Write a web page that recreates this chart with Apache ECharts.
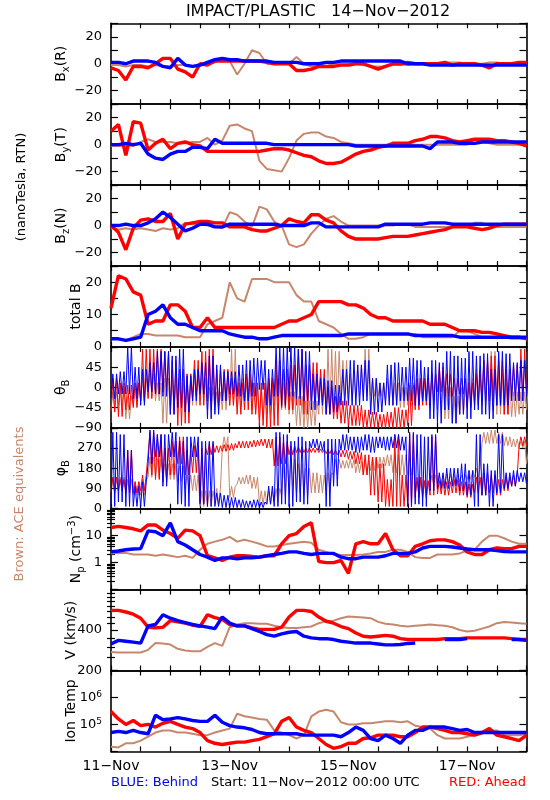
<!DOCTYPE html>
<html><head><meta charset="utf-8">
<script src="https://cdn.jsdelivr.net/npm/echarts@6/dist/echarts.min.js"></script>
<style>html,body{margin:0;padding:0;background:#fff;}#c{width:550px;height:800px;}</style>
</head><body><div id="c"></div>
<script>
// ---------- data (every 3 hours from 11-Nov-2012 00:00 UTC) ----------
const STEP = 3; // hours between samples
const xTickHours = [0,12,24,36,48,60,72,84,96,108,120,132,144,156,168];
const xLabelHours = [0,48,96,144];
const xLabelText = ['11−Nov','13−Nov','15−Nov','17−Nov'];

const bxRed   = [-3,-5,-12,-2,-2,-3,0,4,4,-4,-6,-10,0,-1,2,2,2,2,2,2,2,1,0,0,0,-5,-5,-4,-2,-2,-2,-1,-1,0,0,-2,-4,-2,0,0,1,0,0,0,0,1,-1,0,0,0,-1,-3,0,0,0,1,1];
const bxBlue  = [1,1,0,2,2,2,1,-2,-3,4,-1,-2,-1,1,3,4,3,3,2,2,2,2,1,1,1,1,0,0,0,1,1,2,2,2,2,2,2,2,2,2,0,0,0,-1,-1,-1,-1,-1,-1,-1,-1,-1,-1,-1,-1,-1,-1];
const bxBrown = [-1,-1,-2,-1,-1,-2,-1,-2,-2,-1,-1,-2,0,0,1,4,2,-8,0,10,8,0,0,0,0,5,0,-2,-2,-2,0,0,0,0,-1,-2,-2,-2,-1,-1,-1,0,0,0,0,1,1,1,0,0,0,1,1,0,0,0,1];

const byRed   = [10,15,-8,17,16,-4,1,4,-3,1,2,0,-1,-5,-5,-5,-5,-5,-5,-5,-5,-4,-3,-3,-4,-6,-8,-9,-12,-14,-14,-13,-10,-7,-5,-4,-2,-1,1,1,1,3,4,6,6,5,3,2,3,4,4,4,3,3,2,1,-1];
const byBlue  = [0,0,1,0,1,-7,-10,-11,-7,-5,-5,-2,-2,-3,4,1,1,1,1,1,1,1,0,0,0,0,0,0,0,0,0,0,0,-1,-1,-1,-1,-1,-1,-1,-1,-1,-1,-3,2,2,2,1,1,1,2,2,2,2,2,2,2];
const byBrown = [-1,-1,-1,-1,2,4,2,2,2,1,1,2,2,5,0,3,14,15,12,10,-12,-18,-19,-20,-10,3,8,9,9,6,5,2,1,0,0,0,0,0,0,0,0,0,0,0,0,0,0,0,0,4,4,1,0,0,0,0,0];

const bzRed   = [0,-5,-18,-2,4,5,3,3,9,-10,1,2,3,3,2,2,-1,-1,-1,-3,-4,-4,-2,0,5,3,2,8,8,4,2,-4,-8,-10,-10,-10,-10,-9,-8,-8,-8,-7,-6,-5,-4,-3,-1,-1,-1,-2,-3,-2,0,1,1,1,1];
const bzBlue  = [0,0,1,0,0,2,5,10,6,1,-4,-2,1,1,-1,-1,1,1,1,1,1,1,1,0,0,0,0,2,2,-1,-1,-1,-1,-1,-1,-1,-1,1,1,1,1,1,1,2,2,2,1,1,1,1,1,1,1,1,1,1,1];
const bzBrown = [-2,-3,-2,-3,-2,-3,-4,-2,-3,-2,2,1,1,0,-1,-2,10,8,3,-1,14,12,3,0,-14,-16,-14,-6,0,5,7,3,0,0,0,0,0,0,0,1,1,-1,-1,-1,-1,-1,-1,-1,-1,2,2,0,-1,-1,-1,-1,-1];

const btRed   = [12,22,21,17,16,7,8,8,13,13,11,6,6,9,6,6,6,6,6,6,6,6,6,7,8,8,9,10,14,14,14,14,13,13,12,10,9,9,8,8,8,8,8,7,7,7,6,5,5,5,4.5,4.5,4,3.5,3,3,2.5];
const btBlue  = [2.5,2.5,2,2.5,3,10,11,13,9,7,7,6,5,5,5,5,4,3.5,3,3,2.5,2.5,3,3.5,3.5,3.5,3.5,3.5,3.5,3.5,3.5,3.5,4,4,4,4,4,4,4,4,4,3.5,3.5,3.5,3.5,3.5,3.5,3,3,3,3,3,3,3,3,3,3];
const btBrown = [2.5,2.5,2,3,4,4,3.5,3.5,3.5,3.5,3,3,3,7,8,9,20,15,14,21,21,21,20,20,20,16,14,14,8,7,6,4,2.5,2.5,3,4,4,4,4,4,4,4,3,3,3,3,3,5,5,4,3,3,3,3,2.5,2.5,2.5];

// theta_B: lowest / highest value seen in each 3-hour slot
const thRedLo   = [-55,-65,-50,-45,-30,-25,-15,-10,-60,-85,-80,-20,-40,-30,-40,-30,-40,-60,-50,-60,-85,-90,-85,-45,-50,-40,-60,-30,-35,-60,-70,-80,-85,-85,-90,-88,-90,-90,-90,-90,-85,-50,-40,-30,-10,-20,-20,-15,-45,-40,-30,-30,-40,-60,-20,-30,-10];
const thRedHi   = [20,10,5,10,85,85,85,80,60,40,30,60,80,85,40,40,20,10,30,10,10,20,60,40,50,85,50,55,40,0,-20,-30,-40,-40,-50,-55,-60,-55,-45,-50,5,20,20,30,45,30,20,20,10,30,60,70,60,40,50,85,40];
const thBlueLo  = [-25,-15,-15,-25,-40,-10,-15,-20,-60,-45,-55,-30,-15,-70,-60,-30,-15,-20,-30,-20,-5,-40,-20,-40,-20,-25,-30,-50,-40,-60,-55,-40,-40,-40,-30,-60,-55,-40,-40,-30,-30,-40,-30,-70,-80,-50,-80,-60,-70,-50,-60,-70,-40,-40,-30,-30,-20];
const thBlueHi  = [30,35,90,45,40,55,80,80,70,85,25,40,55,70,50,35,35,50,60,65,60,40,90,90,90,85,80,30,20,15,5,40,60,50,60,20,10,50,55,45,65,60,45,60,55,80,70,65,80,70,75,40,80,75,55,60,50];
const thBrownLo = [-50,-40,-70,-40,-30,-20,-30,-80,-50,-40,-50,-40,-30,-50,-50,-50,-40,-40,-30,-50,-70,-60,-40,-50,-60,-85,-90,-85,-60,-50,-40,-20,-30,-20,-20,-20,-20,-30,-40,-45,-40,-30,-30,-40,-50,-70,-80,-60,-40,-30,-40,-50,-60,-60,-65,-60,-50];
const thBrownHi = [-10,0,-20,10,20,30,10,20,20,10,30,40,20,0,-10,10,85,20,10,10,0,10,20,10,-10,-20,-30,-30,30,85,80,60,30,50,85,20,10,20,10,0,10,20,20,30,30,0,-20,0,20,40,60,80,30,10,-10,-10,0];

// phi_B: lowest / highest value seen in each 3-hour slot
const phRedLo   = [70,80,70,70,80,150,130,120,150,200,150,160,30,240,250,255,260,270,270,275,280,270,190,200,240,250,250,250,250,245,240,230,220,200,150,60,30,10,10,10,10,50,50,60,65,60,70,60,50,70,60,70,60,80,100,280,280];
const phRedHi   = [140,130,260,120,150,340,330,270,300,320,260,280,270,290,280,285,290,300,300,305,310,310,320,300,280,275,270,270,265,265,260,260,255,250,240,230,200,130,330,150,330,140,125,320,125,120,130,120,110,140,160,150,130,140,150,320,320];
const phBlueLo  = [10,30,10,10,10,200,230,100,230,20,10,230,20,10,10,5,5,5,5,5,5,20,10,20,10,30,20,270,260,10,100,260,260,250,260,250,270,260,270,260,10,20,10,80,90,90,100,80,60,10,60,10,70,90,100,120,110];
const phBlueHi  = [340,330,260,100,120,350,330,330,340,300,320,320,300,300,70,60,50,40,35,40,30,100,340,330,300,320,300,310,300,310,310,330,320,320,330,320,320,320,330,320,340,330,320,330,160,180,180,200,170,330,200,170,330,160,170,160,150];
const phBrownLo = [80,80,70,60,60,140,140,130,130,120,90,80,10,10,20,270,50,110,110,90,20,20,30,60,100,70,60,70,70,80,150,180,180,160,150,170,180,190,160,150,150,60,60,100,110,110,110,120,130,140,290,290,290,280,275,270,200];
const phBrownHi = [140,140,130,120,130,230,220,200,200,190,150,150,80,80,90,320,100,140,150,140,80,80,90,200,220,200,180,160,150,160,220,215,220,210,215,230,230,240,240,240,230,120,120,150,150,155,150,150,170,180,340,350,340,320,310,300,250];

const npRed   = [20,22,20,18,15,25,25,16,12,8,16,15,10,1.8,1.5,1.2,1.6,1.8,1.8,1.7,1.6,1.8,1.8,5,10,12,22,30,1.1,1.0,1.0,1.2,0.4,5,6,5,5,12,3,1.8,1.8,4,5,6.5,7,7,6,4.5,2.5,2,2,3,3.5,3.3,3.3,4,4];
const npBlue  = [2.5,2.7,3,3.2,3.3,15,14,10,30,6,4.5,3,2,1.6,1.2,1.5,1.5,1.4,1.5,1.5,1.6,1.8,2,2.2,2.5,2.5,2.2,2,2.2,2.2,2.2,1.6,1.4,1.4,1.6,1.6,1.6,1.8,2.2,2.2,2.2,2.5,3.5,4,4,4,3.8,3.5,3.2,3,3,3,2.8,2.6,2.5,2.5,2.5];
const npBrown = [2.2,2.3,2.3,2,2,2,1.8,2,1.8,1.6,1.8,1.5,3,5,6,7,9,6,7,6,5,4,4,4.5,5,5.5,6,5.5,3,2.5,2,1.9,1.9,1.9,2,2.2,2.5,2.5,3,3,2.5,1.6,1.5,1.5,2,2,2,2.2,2.8,3,6,10,10,8,6,5,5];

const vRed   = [560,560,545,525,490,420,415,420,470,460,450,435,425,520,495,480,440,430,430,415,405,405,405,420,500,560,560,550,500,465,450,425,410,380,360,355,360,365,360,345,340,340,340,340,340,345,345,345,350,350,350,350,350,350,345,340,340];
const vBlue  = [315,335,330,325,320,430,440,520,490,470,455,440,430,420,410,500,450,430,430,410,390,370,360,375,385,390,360,350,345,345,340,330,325,320,320,320,315,310,310,312,318,320,null,null,null,340,340,340,345,null,null,null,null,null,340,340,335];
const vBrown = [275,272,272,272,272,285,320,318,312,290,282,278,278,300,320,305,420,440,450,450,445,445,430,420,415,415,420,425,450,465,470,490,505,500,495,490,460,445,440,430,425,430,435,440,435,430,420,400,390,395,410,425,450,460,455,450,445];

const tRed   = [3e5,1.6e5,1e5,1.4e5,9e4,1e5,8e4,1.1e5,1.3e5,1e5,8e4,7e4,5e4,2.5e4,2e4,1.8e4,2e4,2.2e4,2.2e4,2.5e4,2.8e4,3.5e4,4.5e4,1.3e5,1.8e5,8e4,6e4,5e4,3e4,1.8e4,1.3e4,1.5e4,2e4,2e4,3e4,3.2e4,4e4,4e4,4e4,3.5e4,3.5e4,5e4,8e4,8e4,7e4,6e4,5e4,5e4,4.5e4,4e4,5e4,7e4,4e4,3.5e4,3e4,2.5e4,4e4];
const tBlue  = [5e4,5.5e4,5e4,6e4,5e4,4.5e4,2.2e5,1.5e5,1.6e5,1.8e5,1.6e5,1.4e5,1.3e5,1.3e5,2.2e5,1.2e5,9e4,8e4,7.5e4,6.5e4,5e4,4.5e4,4.5e4,4.5e4,4.5e4,4.5e4,4e4,4e4,4e4,4e4,4e4,3.5e4,5e4,8e4,6e4,3e4,2.5e4,4e4,3e4,2e4,4e4,6e4,6e4,8e4,8e4,8e4,7e4,6e4,6.5e4,5e4,5e4,5e4,5e4,5e4,5e4,5e4,5e4];
const tBrown = [1.5e4,1.4e4,2e4,2e4,2.5e4,3.5e4,5e4,6e4,6e4,5e4,5e4,4.5e4,4e4,4e4,5e4,6e4,7e4,2.5e5,2e5,1.8e5,1.6e5,1.5e5,6e4,5e4,4e4,3e4,4e4,2e5,3e5,3.5e5,3e5,1.2e5,1e5,1e5,1.1e5,1.1e5,1.2e5,1.3e5,1.3e5,1.2e5,1.3e5,9e4,8e4,7e4,4e4,3e4,3e4,3e4,3.5e4,4e4,4.5e4,6e4,6e4,4e4,4e4,4e4,4.5e4];

// axis tick / label values
const bTicks = [-30,-20,-10,0,10,20,30], bLabels = [-20,0,20];
const btTicks = [0,5,10,15,20,25], btLabels = [0,10,20];
const thTicks = [-90,-45,0,45,90], thLabels = [-90,-45,0,45];
const phTicks = [0,90,180,270,360], phLabels = [0,90,180,270];
const npTicks = [0.1,1,10,100], npMinor = [0.2,0.3,0.4,0.5,0.6,0.7,0.8,0.9,2,3,4,5,6,7,8,9,20,30,40,50,60,70,80,90], npLabels = [1,10];
const vTicks = [200,400,800], vMinor = [250,300,350,450,500,550,600,650,700,750], vLabels = [200,400];
const tTicks = [1e4,1e5,1e6,1e7], tLabels = [1e5,1e6];

// ---------- styling ----------
const FONT = 'DejaVu Sans';
const RED = '#ff0000', BLUE = '#0000ff', BROWN = '#c8876c';
const TOP0 = 23.3, H = 80.9, LEFT = 111, RIGHT = 23.5;
const linFmt = v => String(v).replace('-', '−');
const nameRich = {
  sub: {fontFamily: FONT, fontSize: 10, color: '#000', verticalAlign: 'bottom', padding: [9, 0, 0, 0]},
  sup: {fontFamily: FONT, fontSize: 10, color: '#000', verticalAlign: 'top', padding: [0, 0, 7, 0]}
};

const panels = [
  {name: 'B{sub|x}(R)', type: 'value', min: -30, max: 30, ticks: bTicks, labels: bLabels, fmt: linFmt, gap: 40, data: [bxBrown, bxRed, bxBlue]},
  {name: 'B{sub|y}(T)', type: 'value', min: -30, max: 30, ticks: bTicks, labels: bLabels, fmt: linFmt, gap: 40, data: [byBrown, byRed, byBlue]},
  {name: 'B{sub|z}(N)', type: 'value', min: -30, max: 30, ticks: bTicks, labels: bLabels, fmt: linFmt, gap: 40, data: [bzBrown, bzRed, bzBlue]},
  {name: 'total B', type: 'value', min: 0, max: 25, ticks: btTicks, labels: btLabels, fmt: linFmt, gap: 28, data: [btBrown, btRed, btBlue]},
  {name: 'θ{sub|B}', type: 'value', min: -90, max: 90, ticks: thTicks, labels: thLabels, fmt: linFmt, gap: 40, zig: true,
   data: [[thBrownLo, thBrownHi], [thRedLo, thRedHi], [thBlueLo, thBlueHi]]},
  {name: 'φ{sub|B}', type: 'value', min: 0, max: 360, ticks: phTicks, labels: phLabels, fmt: linFmt, gap: 40, zig: true,
   data: [[phBrownLo, phBrownHi], [phRedLo, phRedHi], [phBlueLo, phBlueHi]]},
  {name: 'N{sub|p} (cm{sup|−3})', type: 'log', min: 0.1, max: 100, ticks: npTicks, minor: npMinor, labels: npLabels, fmt: v => String(v), gap: 25, data: [npBrown, npRed, npBlue]},
  {name: 'V (km/s)', type: 'log', min: 200, max: 800, ticks: vTicks, minor: vMinor, labels: vLabels, fmt: v => String(Math.round(v)), gap: 33, data: [vBrown, vRed, vBlue]},
  {name: 'Ion Temp', type: 'log', min: 1e4, max: 1e7, ticks: tTicks, labels: tLabels, fmt: v => '10{sup|' + Math.round(Math.log10(v)) + '}', gap: 33, data: [tBrown, tRed, tBlue]}
];

const grids = [], xAxes = [], yAxes = [], series = [];
const lineCol = {color: '#000', width: 1.6};
const tickCol = {color: '#000', width: 1.2};

function xAxisDef(i, pos, labels) {
  return {type: 'value', gridIndex: i, position: pos, min: 0, max: 168,
    axisLine: {show: true, onZero: false, lineStyle: lineCol},
    axisTick: {show: true, inside: true, length: 5, customValues: xTickHours, lineStyle: tickCol},
    axisLabel: {show: labels, customValues: xLabelHours, formatter: v => xLabelText[xLabelHours.indexOf(v)],
      fontFamily: FONT, fontSize: 14, color: '#000', margin: 8},
    splitLine: {show: false}};
}
function yAxisDef(p, i, pos, main) {
  const a = {type: p.type, gridIndex: i, position: pos, min: p.min, max: p.max,
    axisLine: {show: true, onZero: false, lineStyle: lineCol},
    axisTick: {show: true, inside: true, length: 7, customValues: p.ticks, lineStyle: tickCol},
    axisLabel: {show: false}, splitLine: {show: false}};
  if (p.type === 'log') a.logBase = 10;
  if (main) {
    a.axisLabel = {show: true, customValues: p.labels, formatter: p.fmt, fontFamily: FONT, fontSize: 13, color: '#000', margin: 9,
      rich: {sup: {fontFamily: FONT, fontSize: 9, color: '#000', verticalAlign: 'top', padding: [0, 0, 6, 0]}}};
    a.name = p.name; a.nameLocation = 'middle'; a.nameGap = p.gap; a.nameRotate = 90; a.nameMoveOverlap = false;
    a.nameTextStyle = {fontFamily: FONT, fontSize: 14, color: '#000', rich: nameRich};
  }
  return a;
}
function minorDef(p, i, pos) {
  return {type: p.type, logBase: 10, gridIndex: i, position: pos, min: p.min, max: p.max,
    axisLine: {show: false}, axisLabel: {show: false}, splitLine: {show: false},
    axisTick: {show: true, inside: true, length: 4, customValues: p.minor, lineStyle: tickCol}};
}

const colors = [BROWN, RED, BLUE];
panels.forEach((p, i) => {
  grids.push({left: LEFT, right: RIGHT, top: TOP0 + i * H, height: H});
  xAxes.push(xAxisDef(i, 'bottom', i === panels.length - 1));
  xAxes.push(xAxisDef(i, 'top', false));
  const yIdx = yAxes.length;
  yAxes.push(yAxisDef(p, i, 'left', true));
  yAxes.push(yAxisDef(p, i, 'right', false));
  if (p.minor) { yAxes.push(minorDef(p, i, 'left')); yAxes.push(minorDef(p, i, 'right')); }
  p.data.forEach((d, k) => {
    let pts;
    if (p.zig) {
      // streaks: sweep between the slot's lowest and highest reading, twice per slot
      pts = [];
      d[0].forEach((lo, j) => {
        const hi = d[1][j], t = j * STEP;
        pts.push([t, lo], [t + 0.75, hi], [t + 1.5, lo], [t + 2.25, hi]);
      });
    } else {
      pts = d.map((v, j) => [j * STEP, v]);
    }
    series.push({type: 'line', xAxisIndex: 2 * i, yAxisIndex: yIdx, data: pts, showSymbol: false, symbol: 'none',
      connectNulls: false, animation: false, silent: true, z: 2 + k,
      lineStyle: {color: colors[k], width: p.zig ? 1 : (k === 0 ? 2 : 3.4)}, itemStyle: {color: colors[k]}});
  });
});

const txt = (x, y, text, fill, size, align, rot) => ({type: 'text', x: x, y: y, rotation: rot || 0, silent: true,
  style: {text: text, fill: fill, font: size + 'px "' + FONT + '"', textAlign: align || 'center', textVerticalAlign: 'middle'}});

const option = {
  animation: false,
  backgroundColor: '#fff',
  textStyle: {fontFamily: FONT},
  grid: grids, xAxis: xAxes, yAxis: yAxes, series: series,
  graphic: [
    txt(318, 12, 'IMPACT/PLASTIC   14−Nov−2012', '#000', 16),
    txt(22, 187, '(nanoTesla, RTN)', '#000', 13, 'center', Math.PI / 2),
    txt(20, 504, 'Brown: ACE equivalents', BROWN, 13, 'center', Math.PI / 2),
    txt(111, 783, 'BLUE: Behind', BLUE, 13, 'left'),
    txt(211, 783, 'Start: 11−Nov−2012 00:00 UTC', '#000', 13, 'left'),
    txt(526, 783, 'RED: Ahead', RED, 13, 'right')
  ]
};
const chart = echarts.init(document.getElementById('c'), null, {renderer: 'canvas', width: 550, height: 800});
chart.setOption(option);
</script></body></html>
